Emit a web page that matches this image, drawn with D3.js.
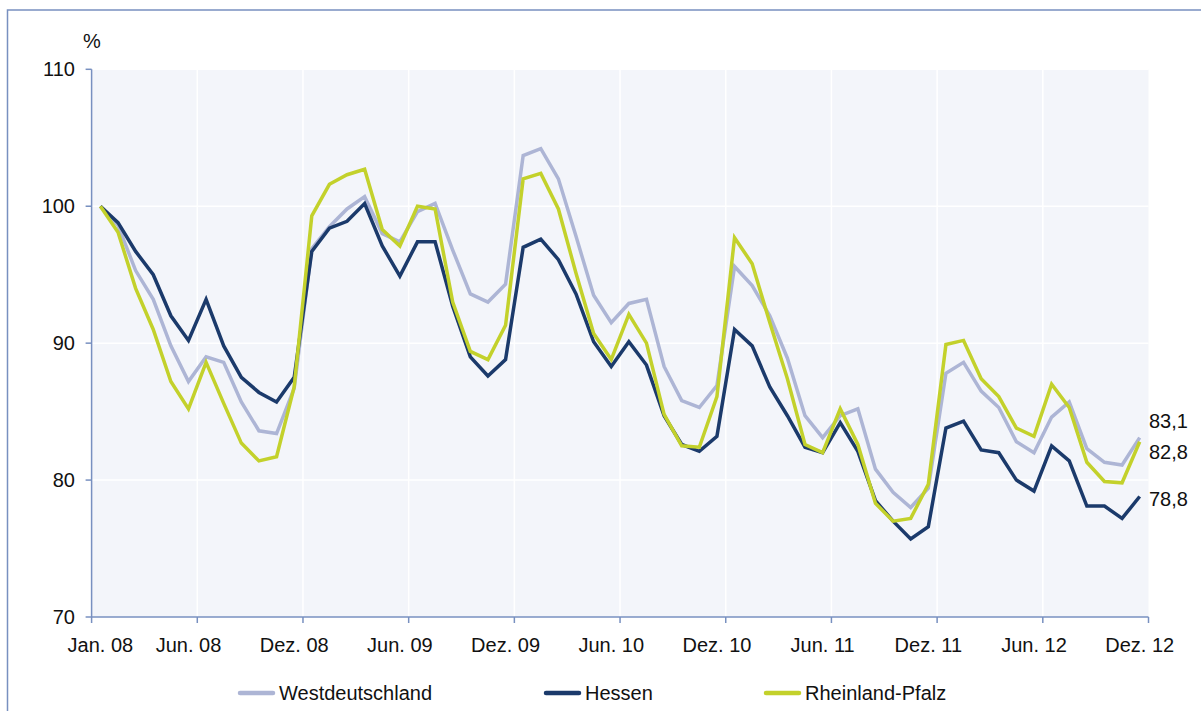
<!DOCTYPE html>
<html><head><meta charset="utf-8">
<script src="https://cdn.jsdelivr.net/npm/d3@7"></script>
<style>
html,body{margin:0;padding:0;background:#fff;}
svg{display:block;font-family:"Liberation Sans",Arial,sans-serif;}
</style></head>
<body>
<svg id="chart" width="1201" height="711"></svg>
<script>
const months = ["Jan. 08","Feb. 08","Mär. 08","Apr. 08","Mai. 08","Jun. 08","Jul. 08","Aug. 08","Sep. 08","Okt. 08","Nov. 08","Dez. 08",
"Jan. 09","Feb. 09","Mär. 09","Apr. 09","Mai. 09","Jun. 09","Jul. 09","Aug. 09","Sep. 09","Okt. 09","Nov. 09","Dez. 09",
"Jan. 10","Feb. 10","Mär. 10","Apr. 10","Mai. 10","Jun. 10","Jul. 10","Aug. 10","Sep. 10","Okt. 10","Nov. 10","Dez. 10",
"Jan. 11","Feb. 11","Mär. 11","Apr. 11","Mai. 11","Jun. 11","Jul. 11","Aug. 11","Sep. 11","Okt. 11","Nov. 11","Dez. 11",
"Jan. 12","Feb. 12","Mär. 12","Apr. 12","Mai. 12","Jun. 12","Jul. 12","Aug. 12","Sep. 12","Okt. 12","Nov. 12","Dez. 12"];
const tickLabels = ["Jan. 08","Jun. 08","Dez. 08","Jun. 09","Dez. 09","Jun. 10","Dez. 10","Jun. 11","Dez. 11","Jun. 12","Dez. 12"];
const yTicks = [70,80,90,100,110];
const seriesNames = ["Westdeutschland","Hessen","Rheinland-Pfalz"];
const westdeutschland = [100,98.6,95.3,93.2,89.8,87.2,89.0,88.6,85.7,83.6,83.4,86.7,
96.9,98.5,99.8,100.7,98.0,97.4,99.6,100.2,96.8,93.6,93.0,94.3,
103.7,104.2,102.0,97.8,93.5,91.5,92.9,93.2,88.3,85.8,85.3,86.9,
95.6,94.2,92.0,88.9,84.7,83.1,84.7,85.2,80.8,79.1,78.0,79.4,
87.8,88.6,86.5,85.3,82.8,82.0,84.6,85.7,82.3,81.3,81.1,83.1];
const hessen = [100,98.8,96.7,95.0,92.0,90.2,93.2,89.8,87.5,86.4,85.7,87.5,
96.7,98.4,98.9,100.2,97.1,94.9,97.4,97.4,92.7,89.0,87.6,88.8,
97.0,97.6,96.1,93.6,90.1,88.3,90.1,88.4,84.7,82.6,82.1,83.2,
91.0,89.8,86.8,84.7,82.4,82.0,84.2,82.1,78.5,77.0,75.7,76.6,
83.8,84.3,82.2,82.0,80.0,79.2,82.5,81.4,78.1,78.1,77.2,78.8];
const rheinlandPfalz = [100,98.1,94.0,91.0,87.2,85.2,88.6,85.6,82.7,81.4,81.7,86.8,
99.3,101.6,102.3,102.7,98.3,97.1,100.0,99.8,93.0,89.4,88.8,91.3,
102.0,102.4,99.8,95.1,90.7,88.8,92.1,90.0,84.8,82.5,82.4,86.1,
97.7,95.8,91.5,87.4,82.6,82.0,85.2,82.6,78.3,77.0,77.2,79.7,
89.9,90.2,87.4,86.1,83.8,83.2,87.0,85.3,81.3,79.9,79.8,82.8];
const endLabels = ["83,1","78,8","82,8"];
const colors = ["#adb5d5","#1b3a6b","#c3d12b"];

const series = [westdeutschland, hessen, rheinlandPfalz];
const svg = d3.select("#chart");
const L = 91.6, R = 1148.5, T = 69.3, B = 617;
const axisColor = "#7890c0";
const FS = 20;

// outer frame
svg.append("path").attr("d", "M7.5,720 V10 H1210").attr("fill","none").attr("stroke", axisColor).attr("stroke-width",1.5);

const x = d3.scaleBand().domain(d3.range(months.length)).range([L, R]).padding(0);
const xc = i => x(i) + x.bandwidth()/2;
const y = d3.scaleLinear().domain([70,110]).range([B, T]);

// plot area
svg.append("rect").attr("x", L).attr("y", T).attr("width", R-L).attr("height", B-T).attr("fill","#f3f5fa");

// gridlines
const boundaries = d3.range(6, 60, 6).map(i => x(i));
svg.append("g").selectAll("line").data(boundaries).join("line")
  .attr("x1", d=>d).attr("x2", d=>d).attr("y1", T).attr("y2", B)
  .attr("stroke","#ffffff").attr("stroke-width",1.5);
svg.append("g").selectAll("line").data(yTicks.slice(1)).join("line")
  .attr("x1", L).attr("x2", R).attr("y1", d=>y(d)).attr("y2", d=>y(d))
  .attr("stroke","#ffffff").attr("stroke-width",1.5);

// y axis
svg.append("line").attr("x1",L).attr("x2",L).attr("y1",T).attr("y2",B).attr("stroke",axisColor).attr("stroke-width",1.5);
svg.append("g").selectAll("line").data(yTicks).join("line")
  .attr("x1", L-6).attr("x2", L).attr("y1", d=>y(d)).attr("y2", d=>y(d)).attr("stroke",axisColor).attr("stroke-width",1.5);
svg.append("g").selectAll("text").data(yTicks).join("text")
  .attr("x", 75).attr("y", d=>y(d)).attr("dy","0.35em").attr("text-anchor","end")
  .attr("font-size",FS).attr("fill","#111").text(d=>d);
svg.append("text").attr("x",83).attr("y",48).attr("font-size",FS).attr("fill","#111").text("%");

// x axis
svg.append("line").attr("x1",L).attr("x2",R).attr("y1",B).attr("y2",B).attr("stroke",axisColor).attr("stroke-width",1.5);
const tickPos = d3.range(0, 61, 6).map(i => i < 60 ? x(i) : R);
svg.append("g").selectAll("line").data(tickPos).join("line")
  .attr("x1", d=>d).attr("x2", d=>d).attr("y1", B).attr("y2", B+6).attr("stroke",axisColor).attr("stroke-width",1.5);
svg.append("g").selectAll("text").data(tickLabels).join("text")
  .attr("x", d=>xc(months.indexOf(d))).attr("y", 645).attr("dy","0.35em").attr("text-anchor","middle")
  .attr("font-size",FS).attr("fill","#111").text(d=>d);

// lines
const line = d3.line().x((d,i)=>xc(i)).y(d=>y(d));
svg.append("g").selectAll("path").data(series).join("path")
  .attr("d", line).attr("fill","none").attr("stroke",(d,i)=>colors[i])
  .attr("stroke-width",3.5).attr("stroke-linejoin","miter").attr("stroke-linecap","butt");

// end labels
const lastVals = [westdeutschland[59], hessen[59], rheinlandPfalz[59]];
const labelDy = [-17, 2, 10];
svg.append("g").selectAll("text").data(lastVals).join("text")
  .attr("x", 1149).attr("y", (d,i)=>y(d)+labelDy[i]).attr("dy","0.35em")
  .attr("font-size",FS).attr("fill","#111").text((d,i)=>endLabels[i]);

// legend
const legendX = [240, 546, 766];
const lg = svg.append("g").selectAll("g").data(seriesNames).join("g")
  .attr("transform",(d,i)=>`translate(${legendX[i]},693)`);
lg.append("line").attr("x1",0).attr("x2",33).attr("y1",0).attr("y2",0)
  .attr("stroke",(d,i)=>colors[i]).attr("stroke-width",4.5).attr("stroke-linecap","round");
lg.append("text").attr("x",39).attr("y",0).attr("dy","0.35em").attr("font-size",FS).attr("fill","#111").text(d=>d);
</script>
</body></html>
